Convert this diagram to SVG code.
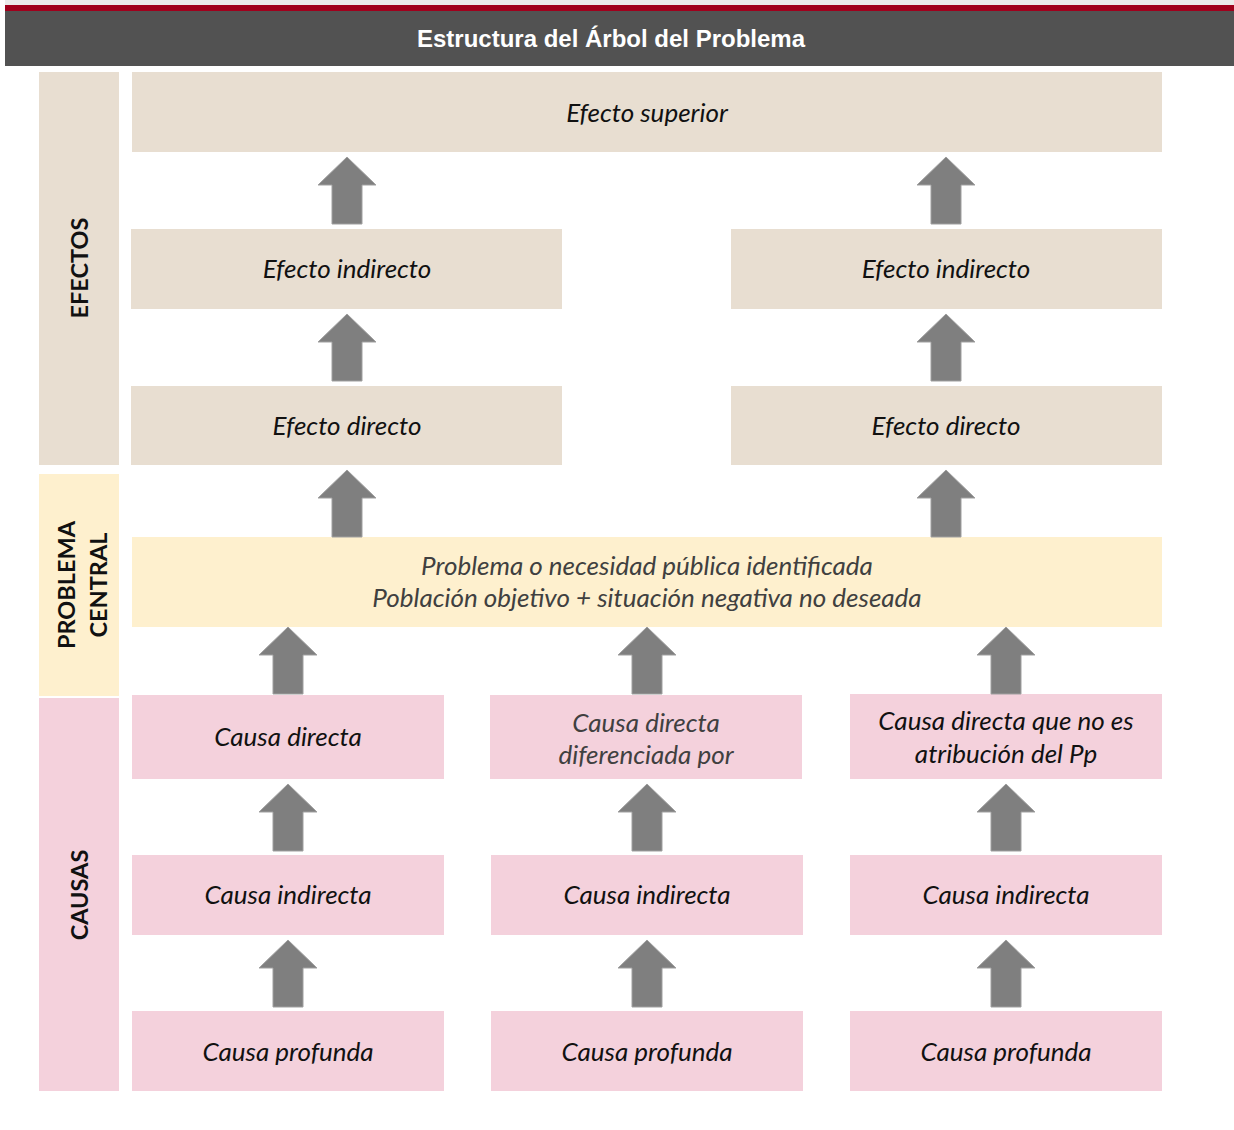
<svg xmlns="http://www.w3.org/2000/svg" width="1234" height="1130" viewBox="0 0 1234 1130">
<defs>
<style>
.eff{fill:#e8ded1}
.prob{fill:#fef0ce}
.cau{fill:#f4d1dc}
.t{font-family:Lato,"Liberation Sans",sans-serif;font-style:italic;font-size:26px;fill:#111;text-anchor:middle}
.g{fill:#404040}
.side{font-family:Lato,"Liberation Sans",sans-serif;font-weight:bold;font-size:23.5px;fill:#111;text-anchor:middle}
.arr{fill:#7f7f7f;stroke:#a0a0a0;stroke-width:1}
</style>
<path id="ar" d="M0,0 L29,28 L15,28 L15,67 L-15,67 L-15,28 L-29,28 Z"/>
</defs>
<rect width="1234" height="1130" fill="#ffffff"/>
<g id="header">
<rect x="5" y="0" width="1229" height="6" fill="#ebebeb"/>
<rect x="5" y="5" width="1229" height="6" fill="#a0001c"/>
<rect x="5" y="11" width="1229" height="55" fill="#525252"/>
<text x="611" y="47" font-family="Liberation Sans,Arial,sans-serif" font-weight="bold" font-size="24" fill="#ffffff" text-anchor="middle">Estructura del Árbol del Problema</text>
</g>
<g id="side-efectos">
<rect class="eff" x="39" y="72" width="80" height="393"/>
<text class="side" transform="translate(88,268) rotate(-90)">EFECTOS</text>
</g>
<g id="side-problema">
<rect class="prob" x="39" y="474" width="80" height="222"/>
<text class="side" transform="translate(75,585) rotate(-90)">PROBLEMA</text>
<text class="side" transform="translate(107,585) rotate(-90)">CENTRAL</text>
</g>
<g id="side-causas">
<rect class="cau" x="39" y="698" width="80" height="393"/>
<text class="side" transform="translate(88,895) rotate(-90)">CAUSAS</text>
</g>
<g id="efecto-superior">
<rect class="eff" x="132" y="72" width="1030" height="80"/>
<text class="t" x="647" y="122">Efecto superior</text>
</g>
<g id="efecto-indirecto-1">
<rect class="eff" x="131" y="229" width="431" height="80"/>
<text class="t" x="347" y="278">Efecto indirecto</text>
</g>
<g id="efecto-indirecto-2">
<rect class="eff" x="731" y="229" width="431" height="80"/>
<text class="t" x="946" y="278">Efecto indirecto</text>
</g>
<g id="efecto-directo-1">
<rect class="eff" x="131" y="386" width="431" height="79"/>
<text class="t" x="347" y="435">Efecto directo</text>
</g>
<g id="efecto-directo-2">
<rect class="eff" x="731" y="386" width="431" height="79"/>
<text class="t" x="946" y="435">Efecto directo</text>
</g>
<g id="problema">
<rect class="prob" x="132" y="537" width="1030" height="90"/>
<text class="t g" x="647" y="575">Problema o necesidad pública identificada</text>
<text class="t g" x="647" y="607">Población objetivo + situación negativa no deseada</text>
</g>
<g id="causa-directa-1">
<rect class="cau" x="132" y="695" width="312" height="84"/>
<text class="t" x="288" y="746">Causa directa</text>
</g>
<g id="causa-directa-2">
<rect class="cau" x="490" y="695" width="312" height="84"/>
<text class="t g" x="646" y="732">Causa directa</text>
<text class="t g" x="646" y="764">diferenciada por</text>
</g>
<g id="causa-directa-3">
<rect class="cau" x="850" y="694" width="312" height="85"/>
<text class="t" x="1006" y="730">Causa directa que no es</text>
<text class="t" x="1006" y="763">atribución del Pp</text>
</g>
<g id="causa-indirecta-1">
<rect class="cau" x="132" y="855" width="312" height="80"/>
<text class="t" x="288" y="904">Causa indirecta</text>
</g>
<g id="causa-indirecta-2">
<rect class="cau" x="491" y="855" width="312" height="80"/>
<text class="t" x="647" y="904">Causa indirecta</text>
</g>
<g id="causa-indirecta-3">
<rect class="cau" x="850" y="855" width="312" height="80"/>
<text class="t" x="1006" y="904">Causa indirecta</text>
</g>
<g id="causa-profunda-1">
<rect class="cau" x="132" y="1011" width="312" height="80"/>
<text class="t" x="288" y="1061">Causa profunda</text>
</g>
<g id="causa-profunda-2">
<rect class="cau" x="491" y="1011" width="312" height="80"/>
<text class="t" x="647" y="1061">Causa profunda</text>
</g>
<g id="causa-profunda-3">
<rect class="cau" x="850" y="1011" width="312" height="80"/>
<text class="t" x="1006" y="1061">Causa profunda</text>
</g>
<g id="connectors">
<use href="#ar" class="arr" x="347" y="157"/>
<use href="#ar" class="arr" x="946" y="157"/>
<use href="#ar" class="arr" x="347" y="314"/>
<use href="#ar" class="arr" x="946" y="314"/>
<use href="#ar" class="arr" x="347" y="470"/>
<use href="#ar" class="arr" x="946" y="470"/>
<use href="#ar" class="arr" x="288" y="627"/>
<use href="#ar" class="arr" x="647" y="627"/>
<use href="#ar" class="arr" x="1006" y="627"/>
<use href="#ar" class="arr" x="288" y="784"/>
<use href="#ar" class="arr" x="647" y="784"/>
<use href="#ar" class="arr" x="1006" y="784"/>
<use href="#ar" class="arr" x="288" y="940"/>
<use href="#ar" class="arr" x="647" y="940"/>
<use href="#ar" class="arr" x="1006" y="940"/>
</g>
</svg>
